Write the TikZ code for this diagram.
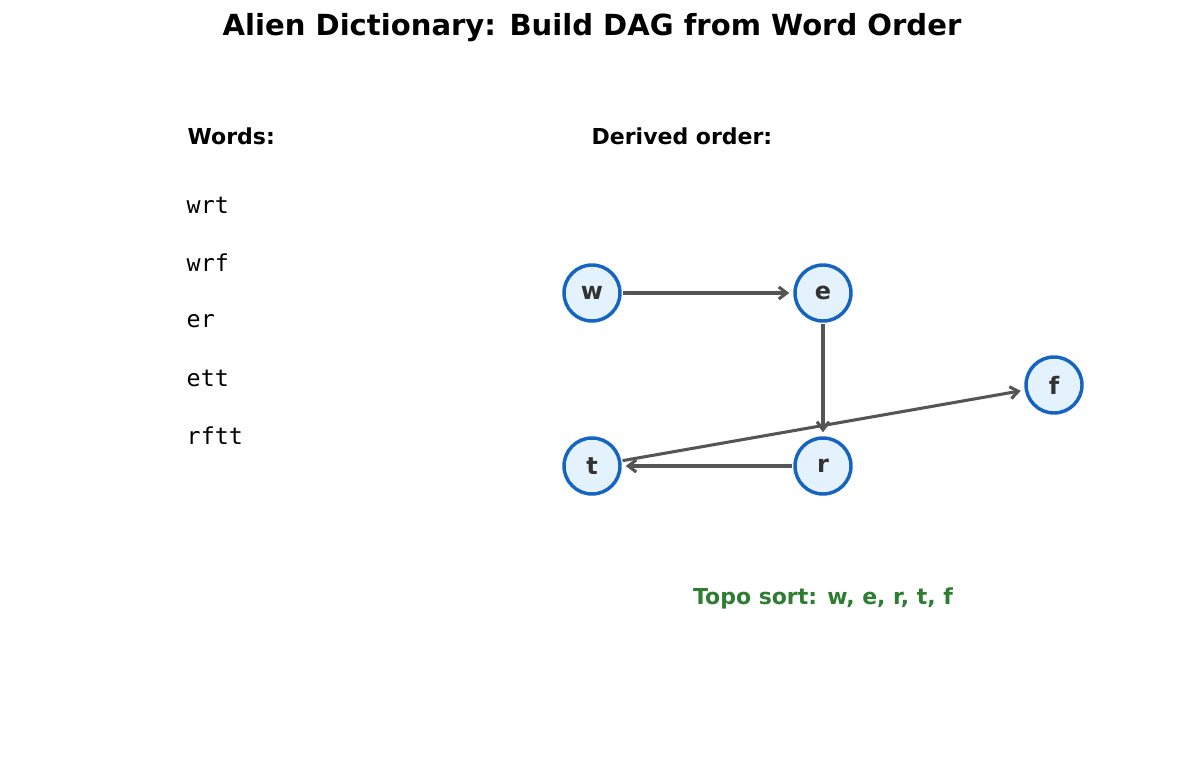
\documentclass[tikz,border=0pt]{standalone}
\usepackage{fontspec}
\setmainfont{DejaVu Sans}
\setmonofont{DejaVu Sans Mono}
\usetikzlibrary{arrows.meta}
\definecolor{nodefill}{HTML}{E3F2FD}
\definecolor{nodeline}{HTML}{1565C0}
\definecolor{edgec}{HTML}{555555}
\definecolor{txtc}{HTML}{333333}
\definecolor{grn}{HTML}{2E7D32}
\begin{document}
\begin{tikzpicture}[x=0.75pt,y=-0.75pt,
  vtx/.style={circle,draw=nodeline,fill=nodefill,line width=2.6pt,minimum size=42pt,inner sep=0pt,font=\bfseries\fontsize{18}{20}\selectfont,text=txtc},
  edge/.style={draw=edgec,line width=2.3pt,-{Straight Barb[length=6pt,width=9pt]},shorten >=3pt,shorten <=1pt},
  word/.style={anchor=west,font=\ttfamily\fontsize{17.5}{20}\selectfont},
  hdr/.style={anchor=west,font=\bfseries\fontsize{16.5}{19}\selectfont}]
\useasboundingbox (0,0) rectangle (1185,770);
\node[font=\bfseries\fontsize{21.8}{25}\selectfont] (title) at (592,28) {Alien Dictionary: Build DAG from Word Order};
\node[hdr] (wh) at (183,136) {Words:};
\node[hdr] (dh) at (587,136) {Derived order:};
\node[word] (w1) at (182,205) {wrt};
\node[word] (w2) at (182,263) {wrf};
\node[word] (w3) at (182,321) {er};
\node[word] (w4) at (182,378) {ett};
\node[word] (w5) at (182,436) {rftt};
\node[vtx] (w) at (592,293) {w};
\node[vtx] (e) at (823,293) {e};
\node[vtx] (f) at (1054,385) {f};
\node[vtx] (t) at (592,466) {t};
\node[vtx] (r) at (823,466) {r};
\draw[edge] (w) -- (e);
\draw[edge] (e) -- (r);
\draw[edge] (r) -- (t);
\draw[edge] (t) -- (f);
\node[font=\bfseries\fontsize{16.5}{19}\selectfont,text=grn] (topo) at (823,598) {Topo sort: w, e, r, t, f};
\end{tikzpicture}
\end{document}
